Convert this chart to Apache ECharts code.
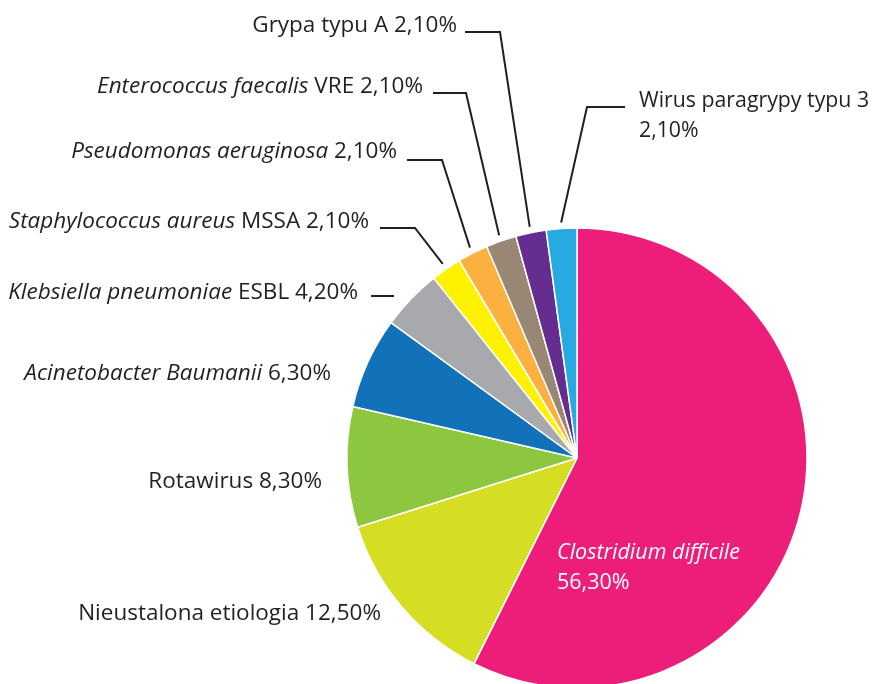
<!DOCTYPE html>
<html>
<head>
<meta charset="utf-8">
<script src="https://cdn.jsdelivr.net/npm/echarts@6/dist/echarts.min.js"></script>
<style>
  html, body { margin: 0; padding: 0; background: #fff; }
  #chart { width: 877px; height: 684px; }
</style>
</head>
<body>
<div id="chart"></div>
<script>
// dane wykresu
const names = [
  'Clostridium difficile',
  'Nieustalona etiologia',
  'Rotawirus',
  'Acinetobacter Baumanii',
  'Klebsiella pneumoniae ESBL',
  'Staphylococcus aureus MSSA',
  'Pseudomonas aeruginosa',
  'Enterococcus faecalis VRE',
  'Grypa typu A',
  'Wirus paragrypy typu 3'
]
const values = [56.3, 12.5, 8.3, 6.3, 4.2, 2.1, 2.1, 2.1, 2.1, 2.1]
const valueLabels = ['56,30%', '12,50%', '8,30%', '6,30%', '4,20%', '2,10%', '2,10%', '2,10%', '2,10%', '2,10%']
// część nazwy pisana kursywą
const italicParts = [
  'Clostridium difficile', '', '', 'Acinetobacter Baumanii', 'Klebsiella pneumoniae',
  'Staphylococcus aureus', 'Pseudomonas aeruginosa', 'Enterococcus faecalis', '', ''
]
const colors = ['#ED1E79', '#D6DE23', '#8DC63F', '#1172BA', '#A7A9AC', '#FFF200', '#FBB040', '#998675', '#662D91', '#27AAE1']

// układ etykiet (pozycja tekstu + kolanko linii)
const CX = 577, CY = 458, R = 230
const FS = 22.5
const labelPos = [
  { x: 557, y: 568, align: 'left' },
  { x: 381, y: 614, align: 'right' },
  { x: 322, y: 482, align: 'right' },
  { x: 331, y: 374, align: 'right' },
  { x: 358, y: 293, align: 'right', dash: [[394, 296], [371, 296]] },
  { x: 369, y: 222, align: 'right', elbow: [[415, 228], [380, 228]] },
  { x: 397, y: 152, align: 'right', elbow: [[442, 160], [407, 160]] },
  { x: 423, y: 87, align: 'right', elbow: [[466, 93], [433, 93]] },
  { x: 457, y: 26, align: 'right', elbow: [[500, 32], [465, 32]] },
  { x: 639, y: 116, align: 'left', elbow: [[587, 107], [625, 107]] }
]

const total = values.reduce((a, b) => a + b, 0)
const midAngles = []
let acc = 0
values.forEach(v => {
  midAngles.push((acc + v / 2) / total * Math.PI * 2)
  acc += v
})

const labelText = i => {
  const it = italicParts[i]
  const rest = names[i].slice(it.length)
  if (i === 0) return '{i|' + it + '}\n{w|' + valueLabels[i] + '}'
  if (i === 9) return names[i] + '\n' + valueLabels[i]
  return (it ? '{i|' + it + '}' : '') + (it ? rest : names[i]) + ' ' + valueLabels[i]
}

const chart = echarts.init(document.getElementById('chart'))
chart.setOption({
  animation: false,
  series: [{
    type: 'pie',
    center: [CX, CY],
    radius: R,
    startAngle: 90,
    clockwise: true,
    avoidLabelOverlap: false,
    itemStyle: { borderColor: '#fff', borderWidth: 1.5 },
    label: {
      show: true,
      position: 'outside',
      formatter: p => labelText(p.dataIndex),
      fontFamily: 'Open Sans',
      fontSize: FS,
      color: '#231F20',
      lineHeight: 30,
      rich: {
        i: { fontStyle: 'italic', fontFamily: 'Open Sans', fontSize: FS, color: '#231F20' },
        w: { fontFamily: 'Open Sans', fontSize: 21.5, color: '#fff' }
      }
    },
    labelLine: { show: true, lineStyle: { color: '#231F20', width: 2 } },
    emphasis: { disabled: true },
    labelLayout: p => {
      const pos = labelPos[p.dataIndex]
      const out = { x: pos.x, y: pos.y, align: pos.align, verticalAlign: 'middle' }
      if (pos.elbow) {
        const a = midAngles[p.dataIndex]
        const start = [CX + (R + 6) * Math.sin(a), CY - (R + 6) * Math.cos(a)]
        out.labelLinePoints = [start, pos.elbow[0], pos.elbow[1]]
      } else if (pos.dash) {
        out.labelLinePoints = [pos.dash[0], pos.dash[0], pos.dash[1]]
      }
      return out
    },
    data: values.map((v, i) => ({
      name: names[i],
      value: v,
      itemStyle: { color: colors[i] },
      label: i === 0
        ? { color: '#fff', rich: { i: { color: '#fff', fontSize: 21.5 } } }
        : (i === 9 ? { fontSize: 21.3 } : {}),
      labelLine: { show: !!(labelPos[i].elbow || labelPos[i].dash) }
    }))
  }]
})
</script>
</body>
</html>
